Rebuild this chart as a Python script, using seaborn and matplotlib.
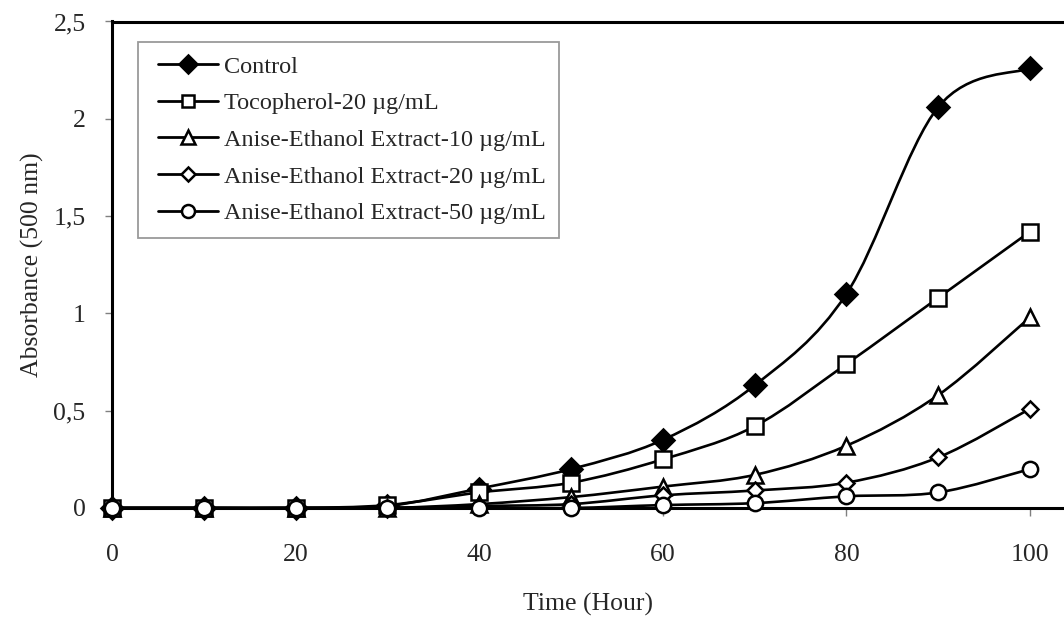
import numpy as np
import pandas as pd
import seaborn as sns
import matplotlib
matplotlib.use("Agg")
import matplotlib.pyplot as plt
from matplotlib.path import Path
from matplotlib.patches import PathPatch
from matplotlib.lines import Line2D
from matplotlib.legend_handler import HandlerLine2D
from matplotlib.ticker import FuncFormatter, FixedLocator

# ---- data ----
hours = [0, 10, 20, 30, 40, 50, 60, 70, 80, 90, 100]
control = [0, 0, 0, 0.01, 0.10, 0.20, 0.35, 0.63, 1.10, 2.06, 2.26]
tocopherol = [0, 0, 0, 0.015, 0.08, 0.13, 0.25, 0.42, 0.74, 1.08, 1.42]
anise10 = [0, 0, 0, 0, 0.02, 0.056, 0.11, 0.17, 0.32, 0.58, 0.98]
anise20 = [0, 0, 0, 0, 0.01, 0.02, 0.065, 0.09, 0.13, 0.26, 0.51]
anise50 = [0, 0, 0, 0, 0, 0, 0.015, 0.025, 0.06, 0.08, 0.20]
labels = ["Control", "Tocopherol-20 \u00b5g/mL", "Anise-Ethanol Extract-10 \u00b5g/mL",
          "Anise-Ethanol Extract-20 \u00b5g/mL", "Anise-Ethanol Extract-50 \u00b5g/mL"]
x_ticks = [0, 20, 40, 60, 80, 100]
y_ticks = [0, 0.5, 1, 1.5, 2, 2.5]

series = [control, tocopherol, anise10, anise20, anise50]
styles = [
    dict(marker="D", markersize=11, markerfacecolor="black"),
    dict(marker="s", markersize=11, markerfacecolor="white"),
    dict(marker="^", markersize=12, markerfacecolor="white"),
    dict(marker="D", markersize=8, markerfacecolor="white"),
    dict(marker="o", markersize=11, markerfacecolor="white"),
]

sns.set_theme(style="white")
plt.rcParams["font.family"] = ["Liberation Serif", "DejaVu Serif"]

fig = plt.figure(figsize=(10.64, 6.17), dpi=100)
ax = fig.add_axes([112 / 1064, 1 - 508 / 617, 1 - 112 / 1064, (508 - 21.5) / 617])


def smooth_path(xs, ys):
    pts = np.column_stack([xs, ys]).astype(float)
    n = len(pts)
    verts = [pts[0]]
    codes = [Path.MOVETO]
    for i in range(n - 1):
        p0 = pts[i - 1] if i > 0 else pts[i]
        p1 = pts[i]
        p2 = pts[i + 1]
        p3 = pts[i + 2] if i + 2 < n else pts[i + 1]
        c1 = p1 + (p2 - p0) / 6.0
        c2 = p2 - (p3 - p1) / 6.0
        verts += [c1, c2, p2]
        codes += [Path.CURVE4] * 3
    return Path(verts, codes)


handles = []
for z, (vals, st, lab) in enumerate(zip(series, styles, labels)):
    patch = PathPatch(smooth_path(hours, vals), facecolor="none", edgecolor="black",
                      lw=1.9, zorder=2 + z * 0.1)
    ax.add_patch(patch)
    df = pd.DataFrame({"Time": hours, "Abs": vals})
    sns.lineplot(data=df, x="Time", y="Abs", ax=ax, linestyle="none",
                 marker=st["marker"], markersize=st["markersize"],
                 markerfacecolor=st["markerfacecolor"], markeredgecolor="black",
                 markeredgewidth=1.8, color="black", zorder=3 + z * 0.1, clip_on=False)
    handles.append(Line2D([], [], color="black", lw=2.0, marker=st["marker"],
                          markersize=st["markersize"] * 0.85,
                          markerfacecolor=st["markerfacecolor"],
                          markeredgecolor="black", markeredgewidth=1.8))

ax.set_xlim(0, (1064 - 112) / 9.18)
ax.set_ylim(0, 2.5)
ax.xaxis.set_major_locator(FixedLocator(x_ticks))
ax.yaxis.set_major_locator(FixedLocator(y_ticks))
ax.yaxis.set_major_formatter(FuncFormatter(lambda v, p: f"{v:g}".replace(".", ",")))

for s in ["left", "bottom", "top"]:
    ax.spines[s].set_color("black")
    ax.spines[s].set_linewidth(2.2)
ax.spines["right"].set_visible(False)

ax.tick_params(axis="x", direction="out", length=6, width=1, color="#808080",
               pad=20, labelsize=18.5, bottom=True)
ax.tick_params(axis="y", direction="out", length=5, width=1, color="#808080",
               pad=14, labelsize=18.5, left=True)

ax.set_xlabel("Time (Hour)", fontsize=18.5, labelpad=19)
ax.set_ylabel("Absorbance (500 nm)", fontsize=18.5, labelpad=7)

leg = ax.legend(handles, labels, loc="upper left", bbox_to_anchor=(0.027, 0.957),
                fontsize=17.5, frameon=True, fancybox=False, edgecolor="#808080",
                handlelength=2.75, handletextpad=0.25, labelspacing=0.6,
                borderpad=0.55, borderaxespad=0,
                handler_map={Line2D: HandlerLine2D(xpad=0.3)})
leg.get_frame().set_linewidth(1.3)

fig.savefig("out.png", dpi=100)
